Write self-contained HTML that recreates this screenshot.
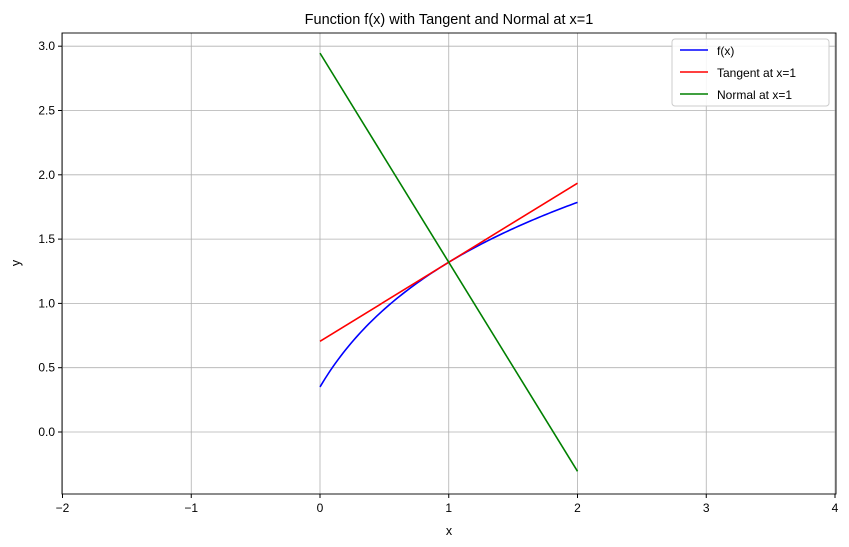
<!DOCTYPE html>
<html><head><meta charset="utf-8"><style>
html,body{margin:0;padding:0;background:#fff;}
svg{display:block;font-family:"Liberation Sans","DejaVu Sans",sans-serif;}
</style></head><body>
<svg id="s" width="849" height="547" viewBox="0 0 849 547" xmlns="http://www.w3.org/2000/svg">
<rect width="849" height="547" fill="#fff"/>
<g id="grid" stroke="#b0b0b0" stroke-width="0.8"></g>
<g id="series" fill="none" stroke-width="1.6"></g>
<rect x="62" y="33" width="774" height="461" fill="none" stroke="#000" stroke-width="0.9"/>
<g id="ticks" font-size="12" fill="#000"></g>
<text x="449" y="24" text-anchor="middle" font-size="14.5">Function f(x) with Tangent and Normal at x=1</text>
<text x="449" y="535" text-anchor="middle" font-size="12.5">x</text>
<text x="20" y="263" text-anchor="middle" font-size="12.5" transform="rotate(-90 20 263)">y</text>
<g>
<rect x="672" y="39" width="157" height="67" rx="3" fill="#fff" fill-opacity="0.85" stroke="#ccc"/>
<line x1="680" y1="50" x2="708" y2="50" stroke="#0000ff" stroke-width="1.6"/>
<text x="717" y="55" font-size="12">f(x)</text>
<line x1="680" y1="72" x2="708" y2="72" stroke="#ff0000" stroke-width="1.6"/>
<text x="717" y="77" font-size="12">Tangent at x=1</text>
<line x1="680" y1="94" x2="708" y2="94" stroke="#008000" stroke-width="1.6"/>
<text x="717" y="99" font-size="12">Normal at x=1</text>
</g>
</svg>
<script>
var NS="http://www.w3.org/2000/svg";
function X(x){return 320+x*128.75;}
function Y(y){return 432-y*128.6;}
function el(p,t,a,txt){var e=document.createElementNS(NS,t);for(var k in a)e.setAttribute(k,a[k]);if(txt!=null)e.textContent=txt;document.getElementById(p).appendChild(e);return e;}
var xt=[-2,-1,0,1,2,3,4];
xt.forEach(function(v){var x=X(v);el("grid","line",{x1:x,y1:33,x2:x,y2:494});
el("ticks","line",{x1:x,y1:494,x2:x,y2:498,stroke:"#000"});
el("ticks","text",{x:x,y:512,"text-anchor":"middle"},v<0?"\u2212"+(-v):String(v));});
[0,0.5,1,1.5,2,2.5,3].forEach(function(v){var y=Y(v);el("grid","line",{x1:62,y1:y,x2:836,y2:y});
el("ticks","line",{x1:58,y1:y,x2:62,y2:y,stroke:"#000"});
el("ticks","text",{x:55,y:y+4,"text-anchor":"end"},v.toFixed(1));});
var a=0.936,b=0.55,c=1.32-a*Math.log(1+b);
function f(x){return a*Math.log(x+b)+c;}
var d="";for(var i=0;i<=100;i++){var x=i/50;d+=(i?"L":"M")+X(x).toFixed(2)+","+Y(f(x)).toFixed(2);}
el("series","path",{d:d,stroke:"#0000ff"});
var m=0.615,y1=1.32;
el("series","line",{x1:X(0),y1:Y(y1-m),x2:X(2),y2:Y(y1+m),stroke:"#ff0000"});
var n=-1/m;
el("series","line",{x1:X(0),y1:Y(y1-n),x2:X(2),y2:Y(y1+n),stroke:"#008000"});
</script>
</body></html>
